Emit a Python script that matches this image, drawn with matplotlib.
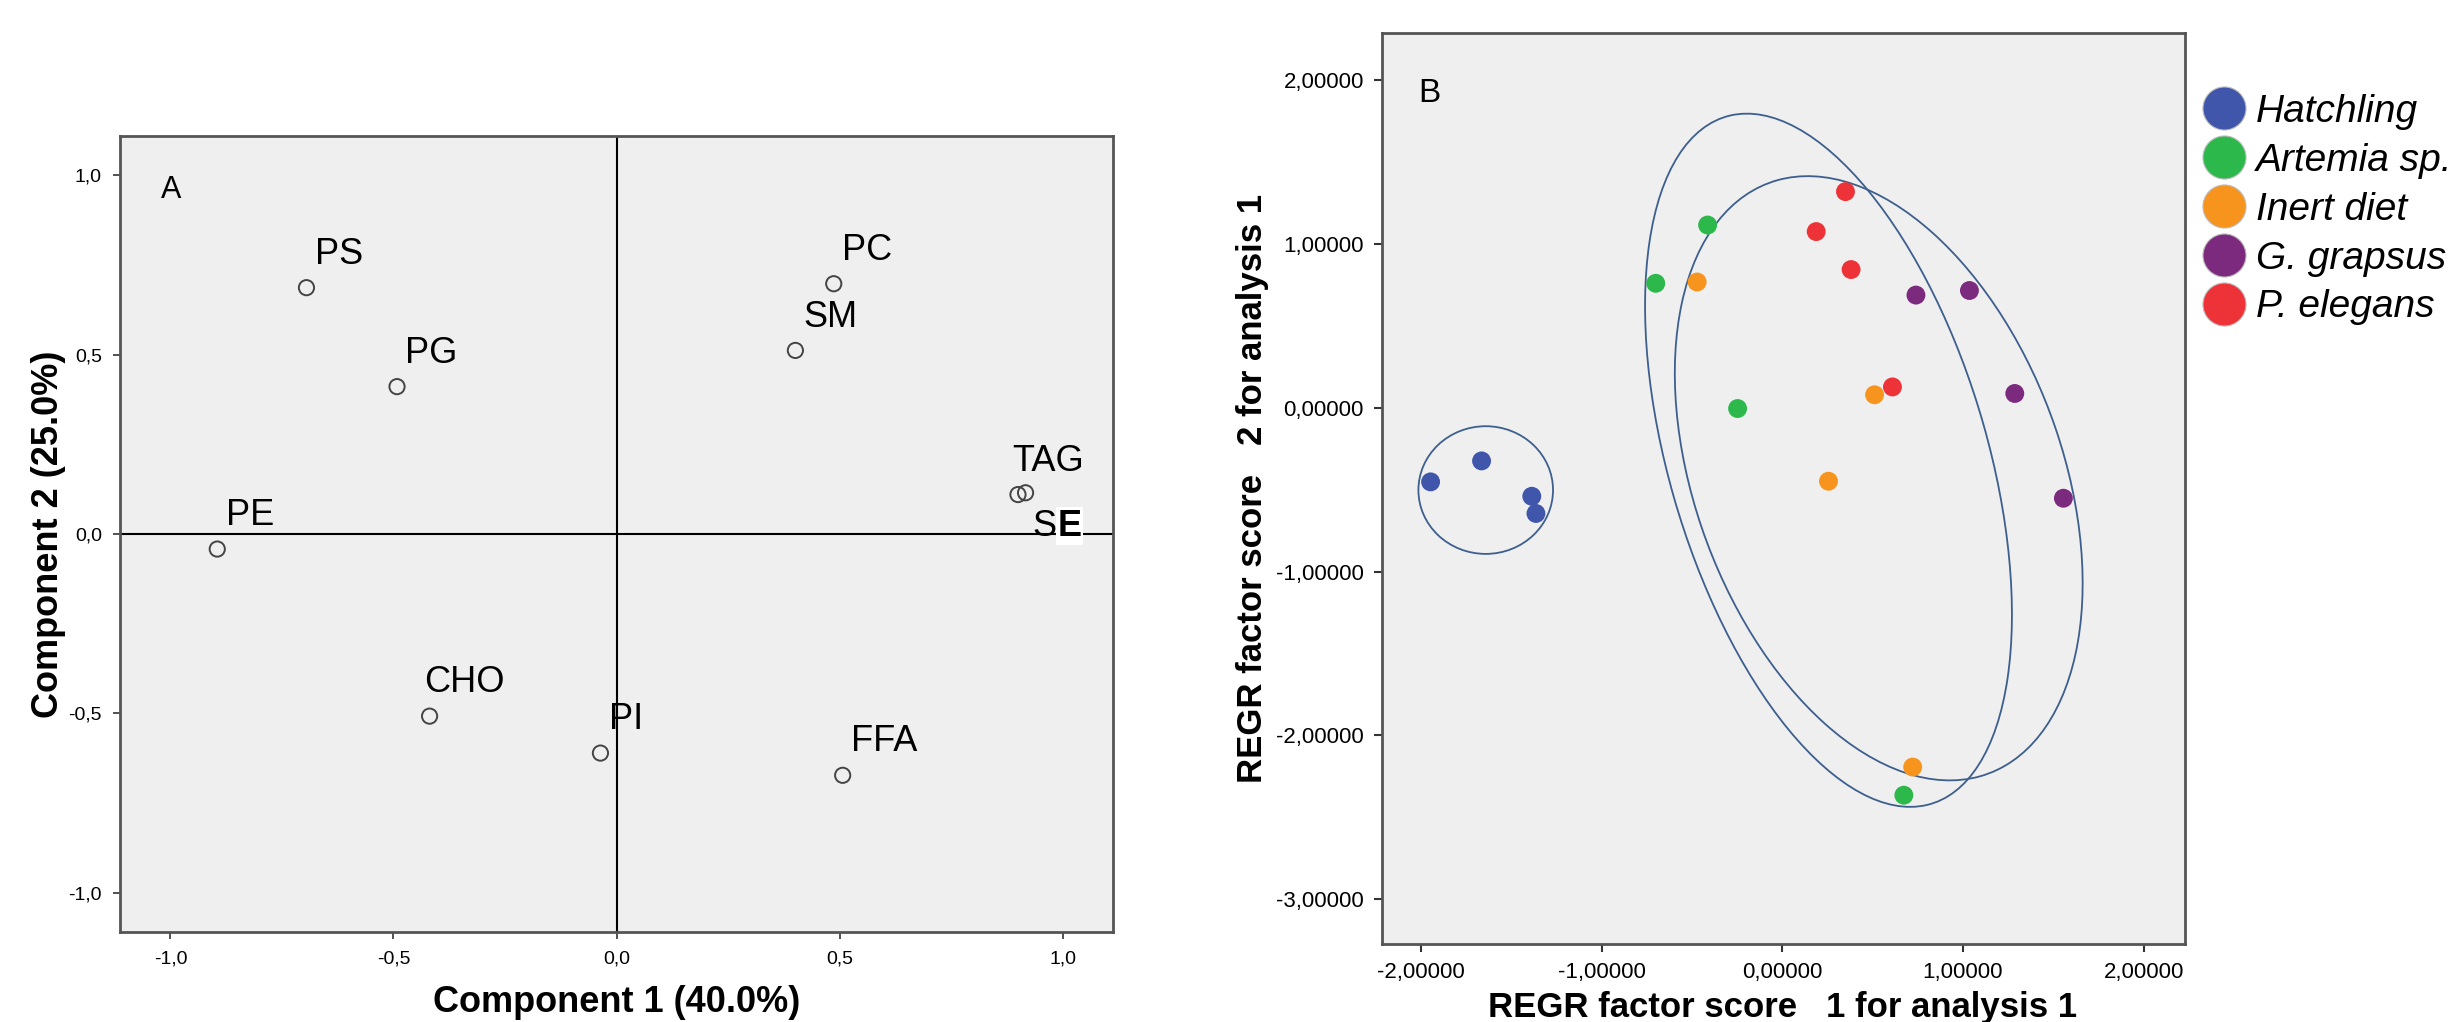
import matplotlib.pyplot as plt
from matplotlib.patches import Ellipse
from matplotlib.lines import Line2D

plt.rcParams['font.family'] = ['Liberation Sans', 'DejaVu Sans']
narrow = ['Liberation Sans Narrow', 'Liberation Sans', 'DejaVu Sans']

# panel A: component loadings
lipids = ['PS', 'PG', 'PE', 'CHO', 'PI', 'FFA', 'SM', 'PC', 'TAG', 'SE']
comp1 = [-0.695, -0.492, -0.895, -0.419, -0.036, 0.507, 0.401, 0.487, 0.900, 0.917]
comp2 = [0.687, 0.411, -0.042, -0.508, -0.611, -0.673, 0.512, 0.698, 0.110, 0.115]
ticks_a = [-1.0, -0.5, 0.0, 0.5, 1.0]
ticklabels_a = ['-1,0', '-0,5', '0,0', '0,5', '1,0']

# panel B: factor scores by diet group
groups = ['Hatchling', 'Artemia sp.', 'Inert diet', 'G. grapsus', 'P. elegans']
colors = ['#3F56AA', '#2DB84B', '#F7941D', '#7B2A7E', '#EE3338']
score1 = [
    [-1.946, -1.664, -1.386, -1.363],
    [-0.413, -0.700, -0.247, 0.673],
    [-0.471, 0.511, 0.256, 0.722],
    [0.740, 1.036, 1.287, 1.556],
    [0.350, 0.188, 0.381, 0.610],
]
score2 = [
    [-0.452, -0.324, -0.540, -0.645],
    [1.117, 0.761, -0.004, -2.366],
    [0.769, 0.080, -0.448, -2.194],
    [0.689, 0.717, 0.088, -0.552],
    [1.321, 1.077, 0.845, 0.128],
]
# ellipses: centre x, centre y, width, height, angle
ellipses = [
    (-1.641, -0.502, 0.745, 0.78, 0),
    (0.256, -0.32, 4.35, 1.77, -75.5),
    (0.534, -0.43, 3.81, 2.05, -72.9),
]
ticks_bx = [-2, -1, 0, 1, 2]
ticklabels_bx = ['-2,00000', '-1,00000', '0,00000', '1,00000', '2,00000']
ticks_by = [2, 1, 0, -1, -2, -3]
ticklabels_by = ['2,00000', '1,00000', '0,00000', '-1,00000', '-2,00000', '-3,00000']

W, H = 2463, 1022
fig = plt.figure(figsize=(W / 100, H / 100), dpi=100)
bg = '#EFEFEF'

# ---- panel A ----
ax = fig.add_axes([120 / W, 1 - 932 / H, 993 / W, 796 / H])
ax.set_facecolor(bg)
ax.set_xlim(-1.113, 1.113)
ax.set_ylim(-1.11, 1.11)
ax.axhline(0, color='black', lw=1.5, zorder=1)
ax.axvline(0, color='black', lw=1.5, zorder=1)
ax.scatter(comp1, comp2, s=120, facecolors='none', edgecolors='#444444', linewidths=1.4, zorder=3)
for name, x, y in zip(lipids, comp1, comp2):
    if name == 'SE':
        ax.annotate('S', (x, y), xytext=(5, -24), textcoords='offset points',
                    ha='left', va='center', fontsize=26)
        ax.annotate('E', (x, y), xytext=(23, -24), textcoords='offset points',
                    ha='left', va='center', fontsize=26, fontweight='bold',
                    bbox=dict(facecolor='white', edgecolor='none', pad=1))
        continue
    dx = -4 if name in ('CHO', 'TAG') else 6
    ax.annotate(name, (x, y), xytext=(dx, 24), textcoords='offset points',
                ha='left', va='center', fontsize=26)
ax.text(-0.998, 0.96, 'A', fontsize=22, ha='center', va='center')
ax.set_xticks(ticks_a)
ax.set_xticklabels(ticklabels_a, family=narrow, fontsize=14)
ax.set_yticks(ticks_a)
ax.set_yticklabels(ticklabels_a, family=narrow, fontsize=14)
ax.tick_params(length=5, width=1.2, color='#333333', pad=8)
for sp in ax.spines.values():
    sp.set_color('#555555')
    sp.set_linewidth(2)
ax.set_xlabel('Component 1 (40.0%)', fontsize=26, fontweight='bold', va='center')
ax.xaxis.set_label_coords(0.5, -0.089)
ax.set_ylabel('Component 2 (25.0%)', fontsize=26, fontweight='bold', va='center')
ax.yaxis.set_label_coords(-0.0725, 0.5)

# ---- panel B ----
bx = fig.add_axes([1382 / W, 1 - 944 / H, 803 / W, 911 / H])
bx.set_facecolor(bg)
bx.set_xlim(-2.215, 2.229)
bx.set_ylim(-3.275, 2.29)
for cx, cy, w, h, a in ellipses:
    bx.add_patch(Ellipse((cx, cy), w, h, angle=a, fill=False,
                         edgecolor='#3D5F8E', lw=1.3, zorder=2))
for g, c, xs, ys in zip(groups, colors, score1, score2):
    bx.scatter(xs, ys, s=185, color=c, edgecolors='none', zorder=3)
bx.text(-1.955, 1.918, 'B', fontsize=24, ha='center', va='center')
bx.set_xticks(ticks_bx)
bx.set_xticklabels(ticklabels_bx, family=narrow, fontsize=16)
bx.set_yticks(ticks_by)
bx.set_yticklabels(ticklabels_by, family=narrow, fontsize=16)
bx.tick_params(length=6, width=1.5, color='#333333', pad=7)
for sp in bx.spines.values():
    sp.set_color('#555555')
    sp.set_linewidth(2)
bx.set_xlabel('REGR factor score   1 for analysis 1', fontsize=25, fontweight='bold', va='center')
bx.xaxis.set_label_coords(0.499, -0.07)
bx.set_ylabel('REGR factor score   2 for analysis 1', fontsize=25, fontweight='bold', va='center')
bx.yaxis.set_label_coords(-0.161, 0.5)

handles = [Line2D([], [], ls='none', marker='o', markersize=31, markerfacecolor=c,
                  markeredgecolor='#BBBBBB', markeredgewidth=0.8) for c in colors]
fig.legend(handles, groups, loc='upper left', bbox_to_anchor=(2203 / W, 1 - 94 / H),
           frameon=False, prop={'style': 'italic', 'size': 28}, borderpad=0,
           handlelength=1.1, handletextpad=0.25, labelspacing=0.33, borderaxespad=0)

fig.savefig('out.png', dpi=100)
